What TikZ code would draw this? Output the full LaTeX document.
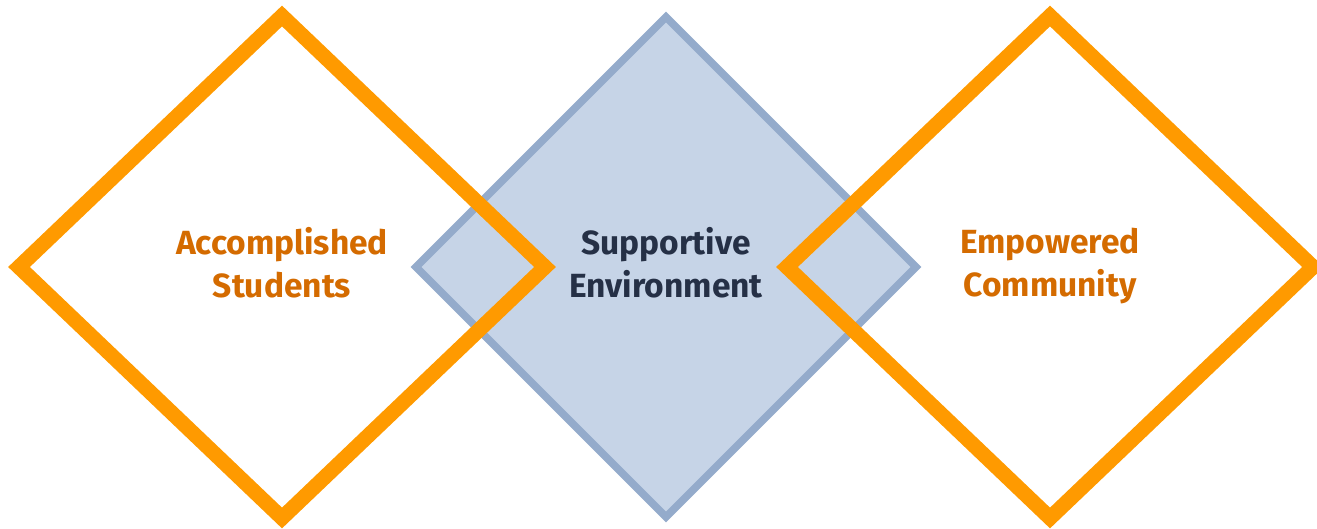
\documentclass[tikz,border=0pt]{standalone}
\usepackage{fontspec}
\newfontfamily\labelfont{Fira Sans}
\usepackage{xcolor}
\usetikzlibrary{positioning}

\definecolor{ringorange}{HTML}{FF9A00}
\definecolor{textorange}{HTML}{D46B00}
\definecolor{envfill}{HTML}{C6D4E7}
\definecolor{envline}{HTML}{94ABCB}
\definecolor{envtext}{HTML}{253046}

\tikzset{
    outer/.style={line width=15pt, ringorange, line join=miter},
    inner/.style={line width=7.5pt, draw=envline, fill=envfill, line join=miter},
    label/.style={font=\labelfont\bfseries\fontsize{33.5}{43}\selectfont, align=center,
        text depth=0pt}
}

\begin{document}
\begin{tikzpicture}[x=1pt,y=1pt]
    \useasboundingbox (0,0) rectangle (1317,529);

    % middle diamond
    \draw[inner] (666,512) -- (916,262) -- (666,12) -- (416,262) -- cycle;

    % left and right diamonds
    \draw[outer] (282,513) -- (545,262) -- (282,11) -- (19,262) -- cycle;
    \draw[outer] (1050,513) -- (1313,262) -- (1050,11) -- (787,262) -- cycle;

    % labels
    \node[label, textorange] (students) at (282,267) {Accomplished\\Students};
    \node[label, envtext] (environment) at (666,267) {Supportive\\Environment};
    \node[label, textorange] (community) at (1050,267) {Empowered\\Community};
\end{tikzpicture}
\end{document}
